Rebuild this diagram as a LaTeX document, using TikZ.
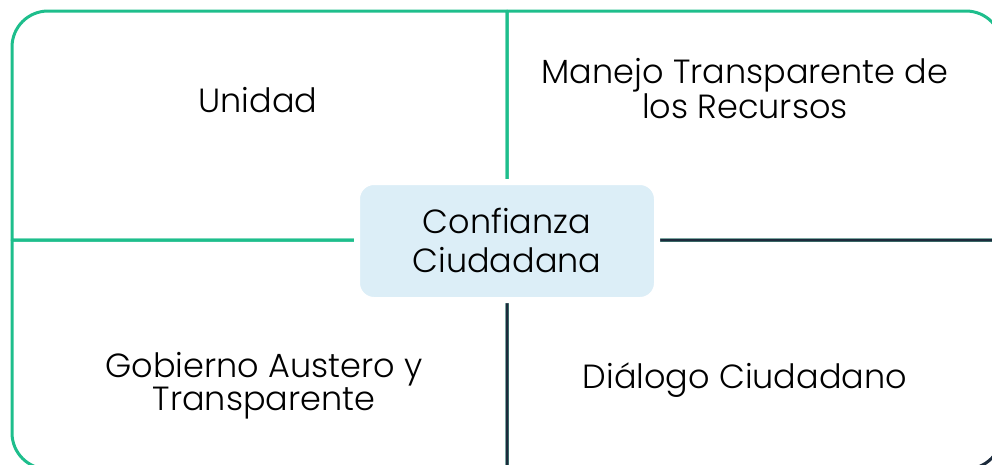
\documentclass[tikz,border=0pt]{standalone}
\usepackage{fontspec}
\newfontfamily\lblfont{Poppins Light}
\definecolor{qgreen}{HTML}{1EBE8C}
\definecolor{qdark}{HTML}{1C2B3C}
\definecolor{cfill}{HTML}{DCEEF7}
\begin{document}
\begin{tikzpicture}[x=1pt,y=-1pt,
  quad/.style={line width=3pt, line join=round},
  lbl/.style={font={\lblfont\fontsize{33.5}{33}\selectfont}, align=center, inner sep=0pt, anchor=base, text=black},
  clbl/.style={font={\lblfont\fontsize{33.5}{39}\selectfont}, align=center, inner sep=0pt, anchor=base, text=black}]
\useasboundingbox (0,0) rectangle (992,464);
\clip (0,0) rectangle (992,464);
% quadrants
\draw[quad, qgreen] (507,240) -- (12,240) -- (12,120) [rounded corners=36pt] -- (12,11) -- (200,11) [sharp corners] -- (507,11) -- cycle;
\draw[quad, qgreen] (507,240) -- (507,11) -- (800,11) [rounded corners=36pt] -- (1002,11) -- (1002,120) [sharp corners] -- (1002,240) -- cycle;
\draw[quad, qgreen] (507,240) -- (12,240) -- (12,360) [rounded corners=36pt] -- (12,469) -- (200,469) [sharp corners] -- (507,469) -- cycle;
\draw[quad, qdark] (507,240) -- (1002,240) -- (1002,360) [rounded corners=36pt] -- (1002,469) -- (800,469) [sharp corners] -- (507,469) -- cycle;
% centre
\draw[white, line width=6pt, fill=cfill, rounded corners=17pt] (357,182) rectangle (657,300);
\node[clbl] (c) at (507,272) {Confianza\\Ciudadana};
% labels
\node[lbl] (tl) at (258,112) {Unidad};
\node[lbl] (tr) at (745,118) {Manejo Transparente de\\los Recursos};
\node[lbl] (bl) at (264,410) {Gobierno Austero y\\Transparente};
\node[lbl] (br) at (745,388) {Diálogo Ciudadano};
\end{tikzpicture}
\end{document}
